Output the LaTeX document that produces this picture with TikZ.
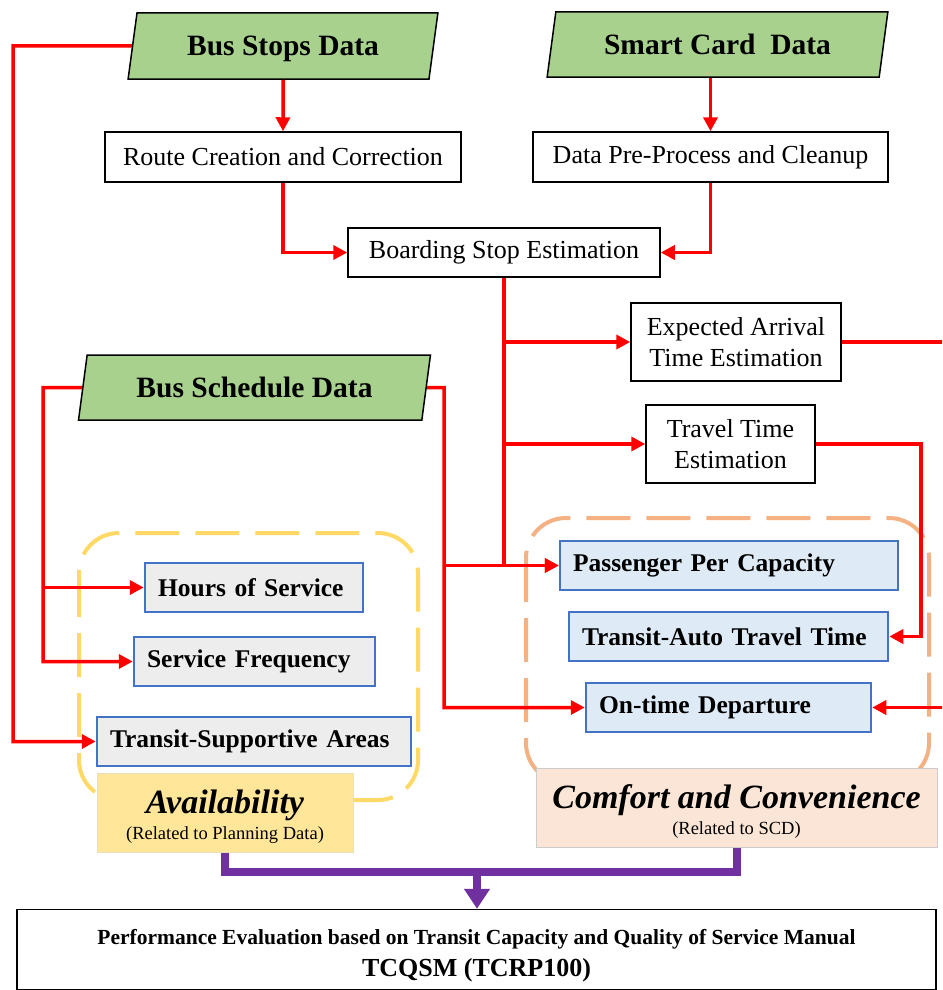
\documentclass[tikz,border=0pt]{standalone}
\usepackage{fontspec}
\setmainfont{Liberation Serif}
\usetikzlibrary{shapes.geometric,arrows.meta}
\definecolor{datagreen}{HTML}{A9D18E}
\definecolor{indblue}{HTML}{4472C4}
\definecolor{indgray}{HTML}{EDEDED}
\definecolor{indsky}{HTML}{DEEBF7}
\definecolor{avyellow}{HTML}{FFD966}
\definecolor{avfill}{HTML}{FFE699}
\definecolor{cforange}{HTML}{F4B183}
\definecolor{cffill}{HTML}{FBE5D6}
\definecolor{sumpurple}{HTML}{7030A0}
\tikzset{
  datain/.style={trapezium, trapezium left angle=77, trapezium right angle=103,
    trapezium stretches=true, draw, line width=1.5pt, fill=datagreen, text depth=0pt,
    font=\fontsize{29.5}{31}\selectfont\bfseries},
  proc/.style={draw, line width=1.5pt, fill=white, align=center,
    font=\fontsize{26}{31}\selectfont},
  ind/.style={draw=indblue, line width=2.5pt, align=left, inner xsep=13pt,
    minimum height=49pt, font=\fontsize{25.5}{28}\selectfont\bfseries},
  flow/.style={draw=red, line width=3.5pt, -{Triangle[length=14pt,width=14pt]}},
  sum/.style={draw=sumpurple, line width=8pt},
  group/.style={line width=4pt, rounded corners=40pt, dash pattern=on 44pt off 16pt},
}

\begin{document}
\begin{tikzpicture}[x=1pt,y=-1pt]
\useasboundingbox (0,0) rectangle (942,990);
\clip (0,0) rectangle (942,990);

% measure groups
\draw[group, avyellow] (79,533) rectangle (418,800);
\draw[group, cforange] (526,518) rectangle (929,783);

% data sources
\node[datain, minimum width=310, minimum height=66] (stops) at (283,46) {Bus Stops Data};
\node[datain, minimum width=341, minimum height=65] (card) at (717.5,44.5) {Smart Card~~Data};
\node[datain, minimum width=353, minimum height=65] (sched) at (254.5,387.5) {Bus Schedule Data};

% processing steps
\node[proc, minimum width=356, minimum height=50] (route) at (283,157) {Route Creation and Correction};
\node[proc, minimum width=355, minimum height=50] (prep) at (710.5,157) {Data Pre-Process and Cleanup};
\node[proc, minimum width=312, minimum height=49] (board) at (504,252.5) {Boarding Stop Estimation};
\node[proc, minimum width=210, minimum height=78] (exp) at (736,342) {Expected Arrival\\Time Estimation};
\node[proc, minimum width=169, minimum height=78] (tt) at (730.5,444) {Travel Time\\Estimation};

% indicators
\node[ind, fill=indgray, text width=192] (hos) at (254,587.5) {Hours of Service};
\node[ind, fill=indgray, text width=215] (sf) at (254.5,661.5) {Service Frequency};
\node[ind, fill=indgray, text width=288] (tsa) at (254,741.5) {Transit-Supportive Areas};
\node[ind, fill=indsky, text width=312] (ppc) at (729,565.5) {Passenger Per Capacity};
\node[ind, fill=indsky, text width=293] (tat) at (728.5,636.5) {Transit-Auto Travel Time};
\node[ind, fill=indsky, text width=259] (otd) at (728.5,707.5) {On-time Departure};

\node[draw=avyellow!80!black!40, fill=avfill, line width=1pt, align=center,
  minimum width=256, minimum height=79] (avail) at (225,812.5)
  {\fontsize{34}{36}\selectfont\bfseries\itshape\rule{0pt}{32pt}Availability\\[5pt]
   \normalfont\fontsize{18.5}{20}\selectfont (Related to Planning Data)};
\node[draw=black!20, fill=cffill, line width=1pt, align=center,
  minimum width=401, minimum height=79] (comf) at (736.5,807.5)
  {\fontsize{34}{36}\selectfont\bfseries\itshape\rule{0pt}{32pt}Comfort and Convenience\\[5pt]
   \normalfont\fontsize{18.5}{20}\selectfont (Related to SCD)};

\node[draw, line width=1.5pt, fill=white, align=center, font=\bfseries,
  minimum width=919, minimum height=80] (perf) at (476.5,949.5)
  {\fontsize{21.5}{28}\selectfont\rule{0pt}{27pt}Performance Evaluation based on Transit Capacity and Quality of Service Manual\\[8pt]
   \fontsize{26}{28}\selectfont TCQSM (TCRP100)};

% red flows
\coordinate (lstops) at (13,46);
\coordinate (lsched) at (43,387.5);
\coordinate (rsched) at (444,387.5);
\coordinate (rexp) at (950,342);
\coordinate (rtt) at (921,444);
\draw[flow] (stops) -- (route);
\draw[flow] (card.south -| prep.north) -- (prep.north);
\draw[flow] (route.south) |- (board.west);
\draw[flow] (prep.south) |- (board.east);
\draw[flow] (stops.west) -- (lstops) |- (tsa.west);
\draw[flow] (sched.west) -- (lsched) |- (sf.west);
\draw[flow] (lsched |- hos.west) -- (hos.west);
\draw[flow] (sched.east) -- (rsched) |- (otd.west);
\draw[flow] (rsched |- ppc.west) -- (ppc.west);
\draw[flow] (board.south) |- (ppc.west);
\draw[flow] (board.south |- exp.west) -- (exp.west);
\draw[flow] (board.south |- tt.west) -- (tt.west);
\draw[flow] (exp.east) -- (rexp) |- (otd.east);
\draw[flow] (tt.east) -- (rtt) |- (tat.east);

% purple merge into evaluation
\coordinate (merge) at (477,872);
\draw[sum] (avail.south) |- (merge) -| (comf.south);
\draw[sum, -{Triangle[length=20pt,width=25pt]}] (merge) -- (merge |- perf.north);
\end{tikzpicture}
\end{document}
